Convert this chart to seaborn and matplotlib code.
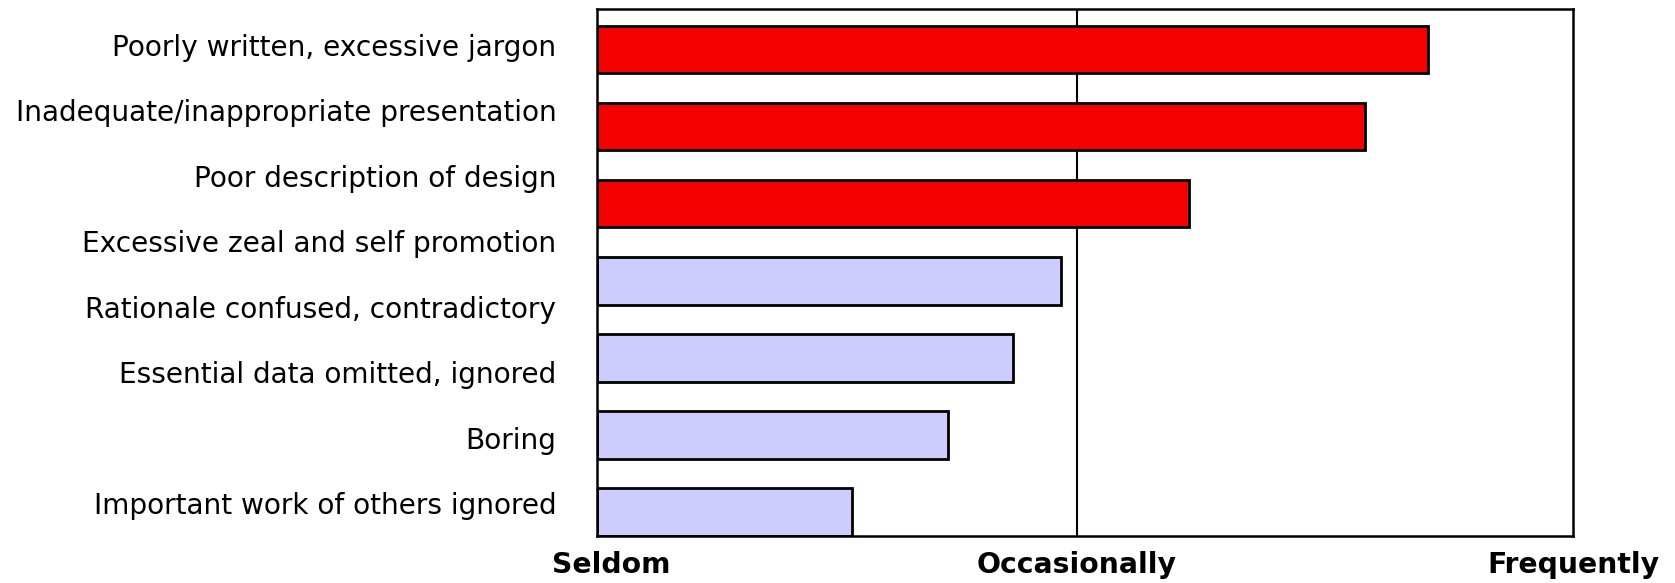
import matplotlib
matplotlib.use("Agg")
import matplotlib.pyplot as plt
import seaborn as sns
import pandas as pd
import numpy as np

sns.set_style("white")
plt.rcParams['font.family'] = ['DejaVu Sans']
plt.rcParams['text.color'] = 'black'
plt.rcParams['xtick.color'] = 'black'

# problems listed on the left (text labels)
issue_labels = ["Poorly written, excessive jargon",
                "Inadequate/inappropriate presentation",
                "Poor description of design",
                "Excessive zeal and self promotion",
                "Rationale confused, contradictory",
                "Essential data omitted, ignored",
                "Boring",
                "Important work of others ignored"]

# the bars (7 of them) - frequency score, 0 = seldom, 1 = occasionally, 2 = frequently
bar_issues = ["Poorly written, excessive jargon",
              "Inadequate/inappropriate presentation",
              "Poor description of design",
              "Excessive zeal and self promotion",
              "Essential data omitted, ignored",
              "Boring",
              "Important work of others ignored"]
bar_scores = [1.73, 1.60, 1.233, 0.966, 0.866, 0.732, 0.532]
bar_group = ["top", "top", "top", "other", "other", "other", "other"]

freq_labels = ["Seldom", "Occasionally", "Frequently"]

df = pd.DataFrame({"issue": bar_issues, "score": bar_scores, "group": bar_group})

fig = plt.figure(figsize=(16.75, 5.83), dpi=100)
ax = fig.add_axes([0.3564, 0.0806, 0.5827, 0.9048])

ax.axvline(1, color="black", lw=1.5, zorder=0.5)
sns.barplot(data=df, y="issue", x="score", hue="group", order=bar_issues,
            palette={"top": "#f50000", "other": "#ccccff"}, dodge=False,
            saturation=1, width=0.616, edgecolor="black", linewidth=2,
            legend=False, orient="h", ax=ax, zorder=2)

ax.set_xlim(0, 2.033)
ax.set_ylim(6.308, -0.53)
ax.set_yticks([])
ax.set_ylabel("")
ax.set_xlabel("")
ax.set_xticks([0.03, 1, 2.033])
ax.set_xticklabels(freq_labels, fontsize=20.3, fontweight="bold")
ax.tick_params(axis="x", length=0, pad=11)
for s in ax.spines.values():
    s.set_color("black")
    s.set_linewidth(1.8)

# left-hand labels, evenly spaced
ypos = np.linspace(0.925, 0.057, len(issue_labels))
for lab, yy in zip(issue_labels, ypos):
    ax.text(-0.0415, yy, lab, transform=ax.transAxes,
            ha="right", va="center", fontsize=20.2)

fig.savefig("out.png", dpi=100)
